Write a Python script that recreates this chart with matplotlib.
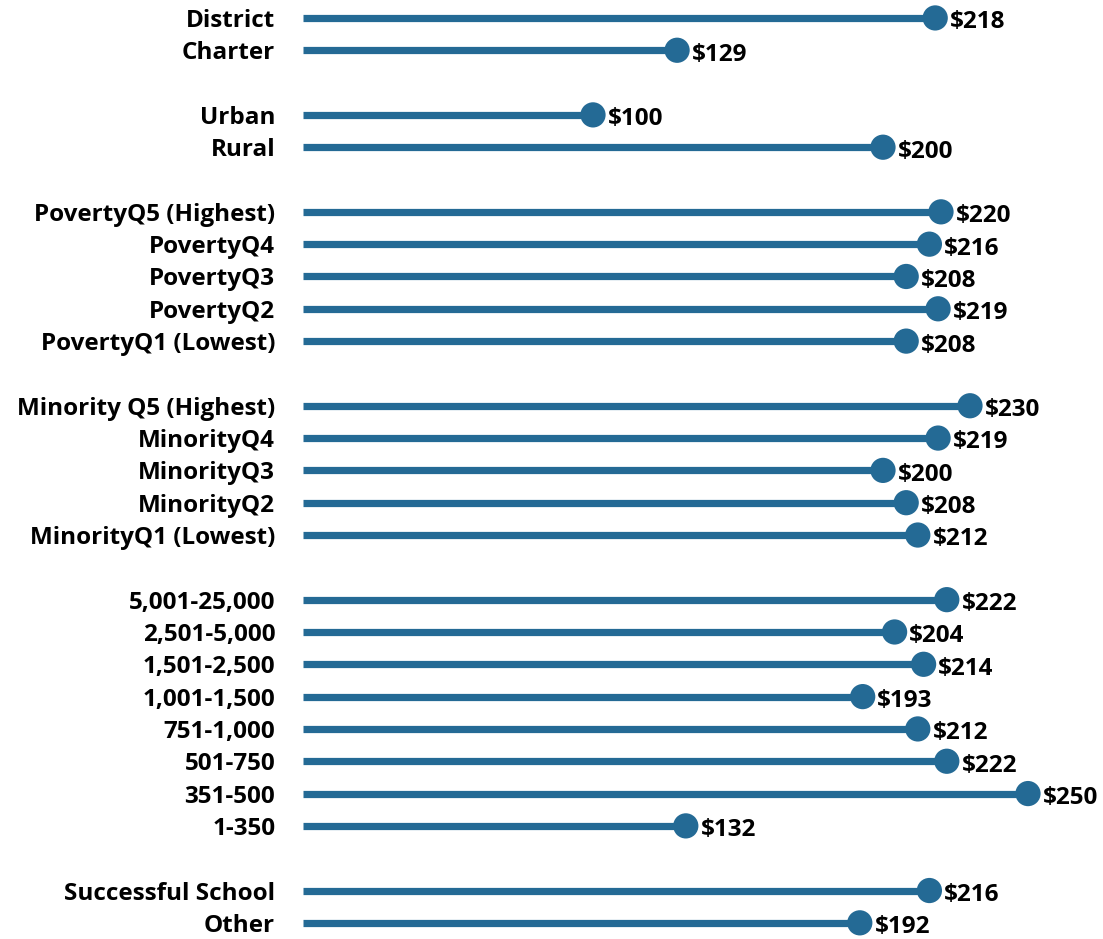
import matplotlib
matplotlib.use("Agg")
import matplotlib.pyplot as plt
import matplotlib.transforms as mtransforms

group_sector = ["District", "Charter"]
values_sector = [218, 129]
group_locale = ["Urban", "Rural"]
values_locale = [100, 200]
group_poverty = ["PovertyQ5 (Highest)", "PovertyQ4", "PovertyQ3", "PovertyQ2", "PovertyQ1 (Lowest)"]
values_poverty = [220, 216, 208, 219, 208]
group_minority = ["Minority Q5 (Highest)", "MinorityQ4", "MinorityQ3", "MinorityQ2", "MinorityQ1 (Lowest)"]
values_minority = [230, 219, 200, 208, 212]
group_size = ["5,001-25,000", "2,501-5,000", "1,501-2,500", "1,001-1,500", "751-1,000", "501-750", "351-500", "1-350"]
values_size = [222, 204, 214, 193, 212, 222, 250, 132]
group_success = ["Successful School", "Other"]
values_success = [216, 192]

groups = [
    (group_sector, values_sector),
    (group_locale, values_locale),
    (group_poverty, values_poverty),
    (group_minority, values_minority),
    (group_size, values_size),
    (group_success, values_success),
]

labels, vals, pos = [], [], []
p = 0
for names, vs in groups:
    for n, v in zip(names, vs):
        labels.append(n)
        vals.append(v)
        pos.append(p)
        p += 1
    p += 1

color = "#246A95"
FONT = "Open Sans"
FS = 17.5
W, H = 1103, 939
fig = plt.figure(figsize=(W / 100, H / 100), dpi=100)
ax = fig.add_axes([303 / W, 0, 1 - 303 / W, 1])
ax.hlines(pos, 0, vals, color=color, linewidth=5.2, capstyle="butt", zorder=2)
ax.scatter(vals, pos, s=330, color=color, zorder=3, edgecolors="none")
for v, y in zip(vals, pos):
    ax.annotate(f"\\${v}", (v, y), xytext=(10.5, -1.0), textcoords="offset points",
                va="center_baseline", ha="left", fontsize=FS, fontweight="bold",
                family=FONT, color="black")
ax.set_xlim(0, (W - 303) / 2.9)
ax.set_ylim(28.5, -18 / 32.43)
ax.set_yticks(pos)
ax.set_yticklabels(labels, fontsize=FS, fontweight="bold", family=FONT)
shift = mtransforms.ScaledTranslation(0, -1.5 / 72, fig.dpi_scale_trans)
for t in ax.get_yticklabels():
    t.set_verticalalignment("center_baseline")
    t.set_transform(t.get_transform() + shift)
ax.tick_params(axis="y", length=0, pad=20)
ax.set_xticks([])
for s in ax.spines.values():
    s.set_visible(False)
fig.savefig("out.png", dpi=100)
